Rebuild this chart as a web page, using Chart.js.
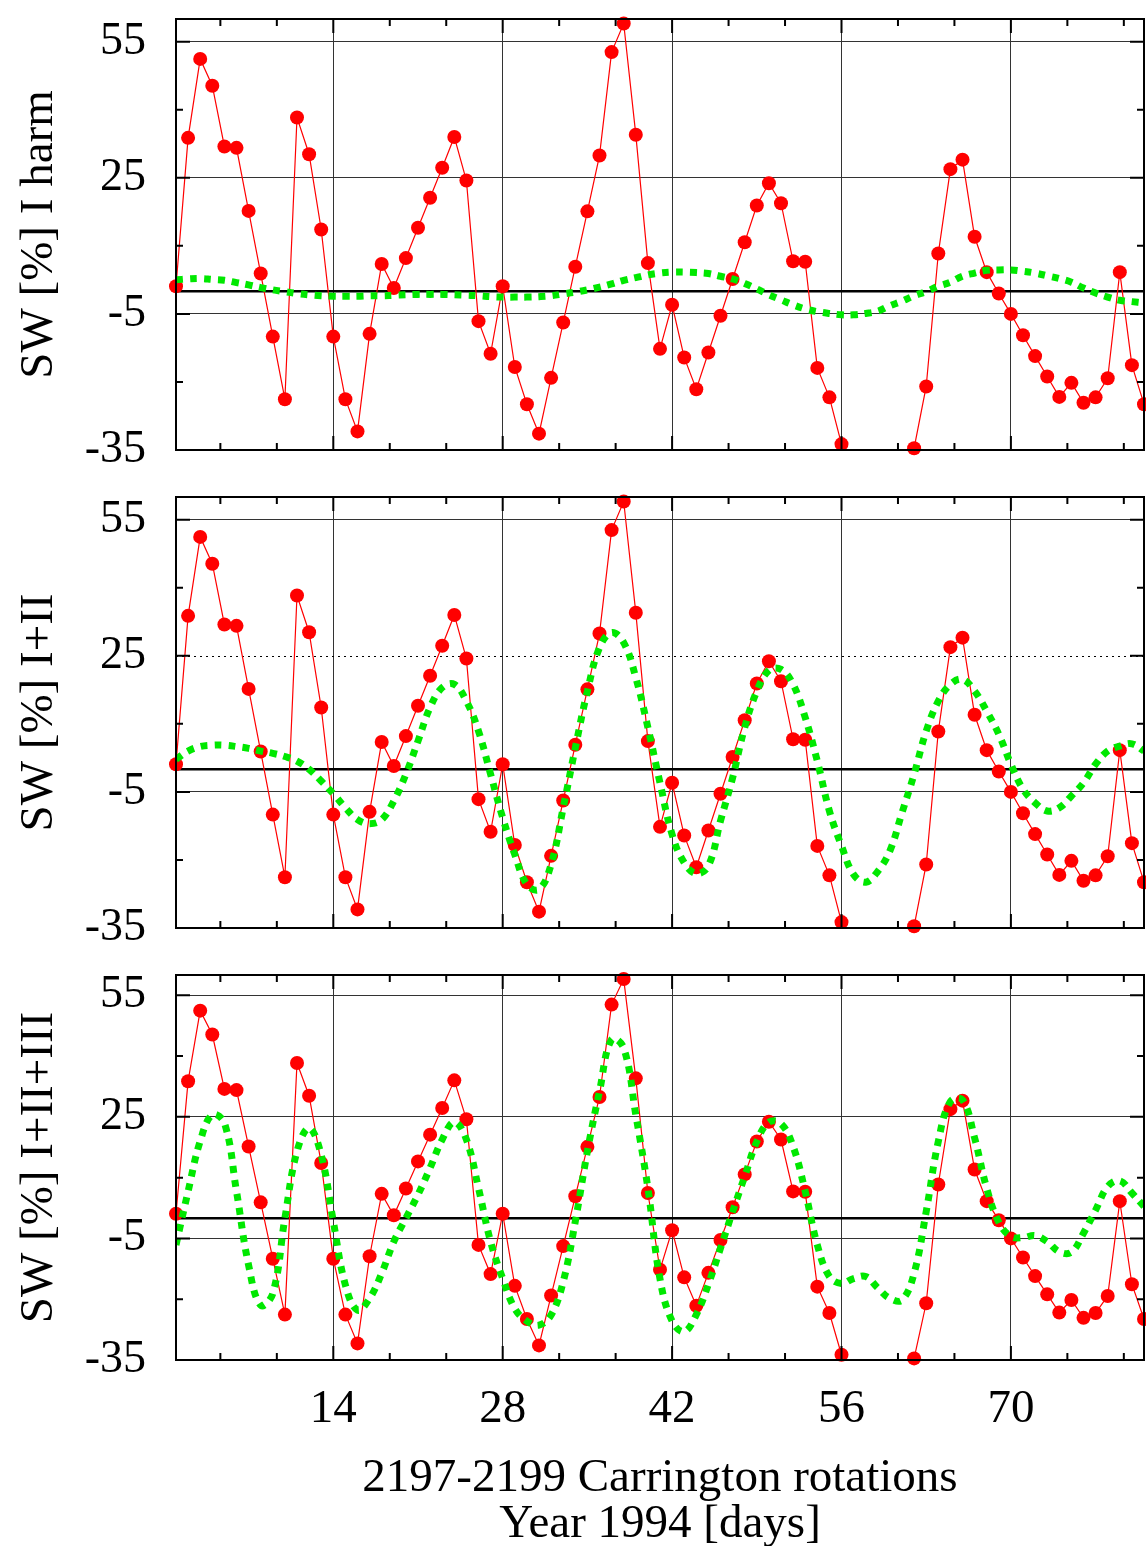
<!DOCTYPE html>
<html>
<head>
<meta charset="utf-8">
<script src="https://cdn.jsdelivr.net/npm/chart.js@4.4.0/dist/chart.umd.min.js"></script>
<style>
body { margin: 0; background: #fff; }
#wrap { position: relative; width: 1146px; height: 1546px; overflow: hidden; }
canvas { position: absolute; left: 0; }
</style>
</head>
<body>
<div id="wrap">
  <canvas id="panel1" style="top:0px"></canvas>
  <canvas id="panel2" style="top:478px"></canvas>
  <canvas id="panel3" style="top:940px"></canvas>
</div>
<script>
// days of the 2197-2199 Carrington rotations
var days = [1,2,3,4,5,6,7,8,9,10,11,12,13,14,15,16,17,18,19,20,21,22,23,24,25,26,27,28,29,30,
            31,32,33,34,35,36,37,38,39,40,41,42,43,44,45,46,47,48,49,50,51,52,53,54,55,56,57,58,59,60,
            61,62,63,64,65,66,67,68,69,70,71,72,73,74,75,76,77,78,79,80,81];

// observed SW [%] (red); days 57-61 lie below the plotted range
var swObserved = [1.1,33.8,51.2,45.3,31.9,31.6,17.7,3.9,-10.0,-23.8,
                  38.3,30.2,13.6,-10.0,-23.8,-30.9,-9.4,6.0,0.7,7.3,
                  14.0,20.6,27.2,34.0,24.4,-6.6,-13.8,1.1,-16.7,-24.9,
                  -31.4,-19.1,-6.9,5.4,17.6,29.9,52.7,59.0,34.5,6.2,
                  -12.7,-3.0,-14.6,-21.6,-13.5,-5.4,2.7,10.8,18.9,23.8,
                  19.4,6.6,6.5,-16.9,-23.4,-33.7,null,null,null,null,
                  null,-34.6,-21.0,8.3,26.9,29.0,12.0,4.2,-0.5,-5.0,
                  -9.7,-14.3,-18.8,-23.3,-20.2,-24.6,-23.4,-19.2,4.2,-16.3,
                  -24.9];

// harmonic fits (green)
var harmI = [2.5,2.7,2.8,2.6,2.4,1.9,1.4,0.8,0.3,-0.1,
             -0.5,-0.8,-1.0,-1.1,-1.1,-1.1,-1.0,-1.0,-0.9,-0.8,
             -0.7,-0.7,-0.7,-0.8,-0.9,-1.0,-1.2,-1.3,-1.3,-1.3,
             -1.2,-1.0,-0.6,-0.2,0.3,0.9,1.6,2.4,3.0,3.6,
             4.0,4.2,4.2,4.1,3.9,3.3,2.7,1.7,0.5,-0.8,
             -1.9,-3.0,-3.9,-4.5,-4.9,-5.2,-5.2,-4.9,-4.4,-3.2,
             -2.2,-1.0,-0.1,1.1,2.0,3.3,4.0,4.6,4.7,4.7,
             4.4,4.0,3.4,2.8,2.0,0.7,-0.4,-1.3,-2.0,-2.3,
             -2.6];

var harmI_II = [2.2,4.0,5.0,5.3,5.3,5.0,4.6,4.0,3.5,2.8,
                1.8,0.0,-2.6,-5.4,-8.5,-11.1,-12.0,-11.1,-7.0,-1.1,
                6.2,13.6,18.0,18.7,15.0,8.4,-1.1,-10.7,-18.8,-25.4,
                -26.5,-21.0,-8.5,4.7,17.2,26.8,30.1,27.9,20.2,9.2,
                -3.0,-14.4,-20.6,-23.0,-21.3,-11.4,-1.9,9.2,17.2,21.8,
                22.0,18.7,11.4,1.8,-9.2,-16.9,-23.2,-24.9,-22.5,-18.0,
                -9.6,-1.1,8.4,15.0,18.7,19.8,17.2,12.8,7.7,1.1,
                -4.4,-7.4,-9.2,-8.5,-5.9,-3.0,1.1,4.0,5.1,5.6,
                4.0];

var harmI_II_III = [-6.6,6.6,19.0,25.5,23.5,6.6,-11.6,-21.5,-18.6,0.0,
                    16.5,22.2,15.6,-0.8,-16.5,-22.7,-19.8,-13.6,-5.8,0.0,
                    5.8,12.4,19.4,23.7,19.4,7.4,-5.8,-14.9,-22.3,-25.4,
                    -26.4,-23.9,-15.7,-0.8,16.5,31.3,44.1,42.0,25.5,7.4,
                    -15.0,-25.4,-28.0,-23.8,-16.3,-7.4,1.6,10.3,18.9,23.7,
                    23.3,17.7,6.6,-6.6,-14.4,-16.1,-14.9,-14.4,-17.2,-19.8,
                    -20.2,-13.6,1.6,18.9,28.8,29.2,19.8,7.4,-1.0,-4.5,
                    -4.8,-4.3,-5.8,-8.3,-8.4,-3.7,2.0,7.8,9.2,6.2,
                    2.9];

var xTicks = [14, 28, 42, 56, 70];
var yTicks = [-35, -5, 25, 55];
var yMinorTicks = [40, 10, -20];
var xTitle = ['2197-2199 Carrington rotations', 'Year 1994 [days]'];

var serif = "'Liberation Serif', 'Times New Roman', serif";
var green = 'rgb(0,232,0)';

function toXY(vals) {
    let pts = [];
    for (let i = 0; i < days.length; i++) {
        pts.push({x: days[i], y: vals[i]});
    }
    return pts;
}

// frame, zero line, inward tick marks (gnuplot look)
var framePlugin = {
    id: 'frame',
    beforeDatasetsDraw: function (chart, args, opts) {
        let ctx = chart.ctx, a = chart.chartArea, y = chart.scales.y;
        ctx.save();
        if (opts.dotted != null) {
            let yd = Math.round(y.getPixelForValue(opts.dotted)) + 0.5;
            ctx.strokeStyle = '#000';
            ctx.lineWidth = 1;
            ctx.setLineDash([2, 4]);
            ctx.beginPath(); ctx.moveTo(a.left, yd); ctx.lineTo(a.right, yd); ctx.stroke();
            ctx.setLineDash([]);
        }
        let y0 = y.getPixelForValue(0);
        ctx.strokeStyle = '#000';
        ctx.lineWidth = 2.5;
        ctx.beginPath(); ctx.moveTo(a.left, y0); ctx.lineTo(a.right, y0); ctx.stroke();
        ctx.restore();
    },
    afterDatasetsDraw: function (chart) {
        let ctx = chart.ctx, a = chart.chartArea, x = chart.scales.x, y = chart.scales.y;
        ctx.save();
        ctx.strokeStyle = '#000';
        ctx.lineWidth = 2;
        ctx.strokeRect(a.left, a.top, a.right - a.left, a.bottom - a.top);
        ctx.beginPath();
        let step = 14 / 3;
        for (let v = step; v < 81; v += step) {
            let px = x.getPixelForValue(v);
            let len = (Math.abs(v / 14 - Math.round(v / 14)) < 0.01) ? 14 : 7;
            ctx.moveTo(px, a.bottom); ctx.lineTo(px, a.bottom - len);
            ctx.moveTo(px, a.top); ctx.lineTo(px, a.top + len);
        }
        yTicks.forEach(function (v) {
            let py = y.getPixelForValue(v);
            ctx.moveTo(a.left, py); ctx.lineTo(a.left + 14, py);
            ctx.moveTo(a.right, py); ctx.lineTo(a.right - 14, py);
        });
        yMinorTicks.forEach(function (v) {
            let py = y.getPixelForValue(v);
            ctx.moveTo(a.left, py); ctx.lineTo(a.left + 7, py);
            ctx.moveTo(a.right, py); ctx.lineTo(a.right - 7, py);
        });
        ctx.stroke();
        ctx.restore();
    }
};

function makePanel(canvasId, fit, yTitle, cfg) {
    let canvas = document.getElementById(canvasId);
    canvas.width = 1146; canvas.height = cfg.height;
    canvas.style.width = '1146px'; canvas.style.height = cfg.height + 'px';

    let config = {
        type: 'line',
        data: {
            datasets: [
                {
                    data: toXY(fit),
                    borderColor: green,
                    borderWidth: 7,
                    borderDash: [7, 7],
                    borderCapStyle: 'butt',
                    tension: 0.4,
                    pointRadius: 0,
                    fill: false
                },
                {
                    data: toXY(swObserved),
                    borderColor: '#ff0000',
                    borderWidth: 1.2,
                    backgroundColor: '#ff0000',
                    pointBackgroundColor: '#ff0000',
                    pointBorderWidth: 0,
                    pointRadius: 7,
                    tension: 0,
                    spanGaps: false,
                    clip: false,
                    fill: false
                }
            ]
        },
        options: {
            responsive: false,
            animation: false,
            devicePixelRatio: 1,
            layout: { autoPadding: false, padding: { top: cfg.padTop, bottom: cfg.padBottom, left: 0, right: 2 } },
            plugins: {
                legend: { display: false },
                tooltip: { enabled: false },
                frame: { dotted: cfg.dotted }
            },
            scales: {
                x: {
                    type: 'linear', min: 1, max: 81,
                    afterBuildTicks: function (s) { s.ticks = xTicks.map(function (v) { return {value: v}; }); },
                    afterFit: function (s) { s.height = cfg.showX ? 186 : 0; s.paddingLeft = 0; s.paddingRight = 0; },
                    grid: { drawTicks: false, color: '#333', lineWidth: 1 },
                    border: { display: false },
                    ticks: { display: cfg.showX, padding: 21, color: '#000', font: { family: serif, size: 47 } },
                    title: {
                        display: cfg.showX, text: xTitle, color: '#000',
                        font: { family: serif, size: 47, lineHeight: 0.98 },
                        padding: { top: 0, bottom: -2 }
                    }
                },
                y: {
                    type: 'linear', min: -35, max: 60,
                    afterBuildTicks: function (s) { s.ticks = yTicks.map(function (v) { return {value: v}; }); },
                    afterFit: function (s) { s.width = 176; s.paddingTop = 0; s.paddingBottom = 0; },
                    grid: {
                        drawTicks: false, lineWidth: 1,
                        color: function (c) {
                            if (c.tick && (c.tick.value == -35 || c.tick.value === cfg.dotted)) return 'rgba(0,0,0,0)';
                            return '#333';
                        }
                    },
                    border: { display: false },
                    ticks: { padding: 30, color: '#000', font: { family: serif, size: 46 } },
                    title: {
                        display: true, text: yTitle, color: '#000',
                        font: { family: serif, size: 47 },
                        padding: { top: 11, bottom: 0 }
                    }
                }
            }
        },
        plugins: [framePlugin]
    };
    return new Chart(canvas.getContext('2d'), config);
}

makePanel('panel1', harmI, 'SW [%] I harm', { height: 470, padTop: 19, padBottom: 20, showX: false, dotted: null });
makePanel('panel2', harmI_II, 'SW [%] I+II', { height: 470, padTop: 19, padBottom: 20, showX: false, dotted: 25 });
makePanel('panel3', harmI_II_III, 'SW [%] I+II+III', { height: 606, padTop: 35, padBottom: 0, showX: true, dotted: null });
</script>
</body>
</html>
